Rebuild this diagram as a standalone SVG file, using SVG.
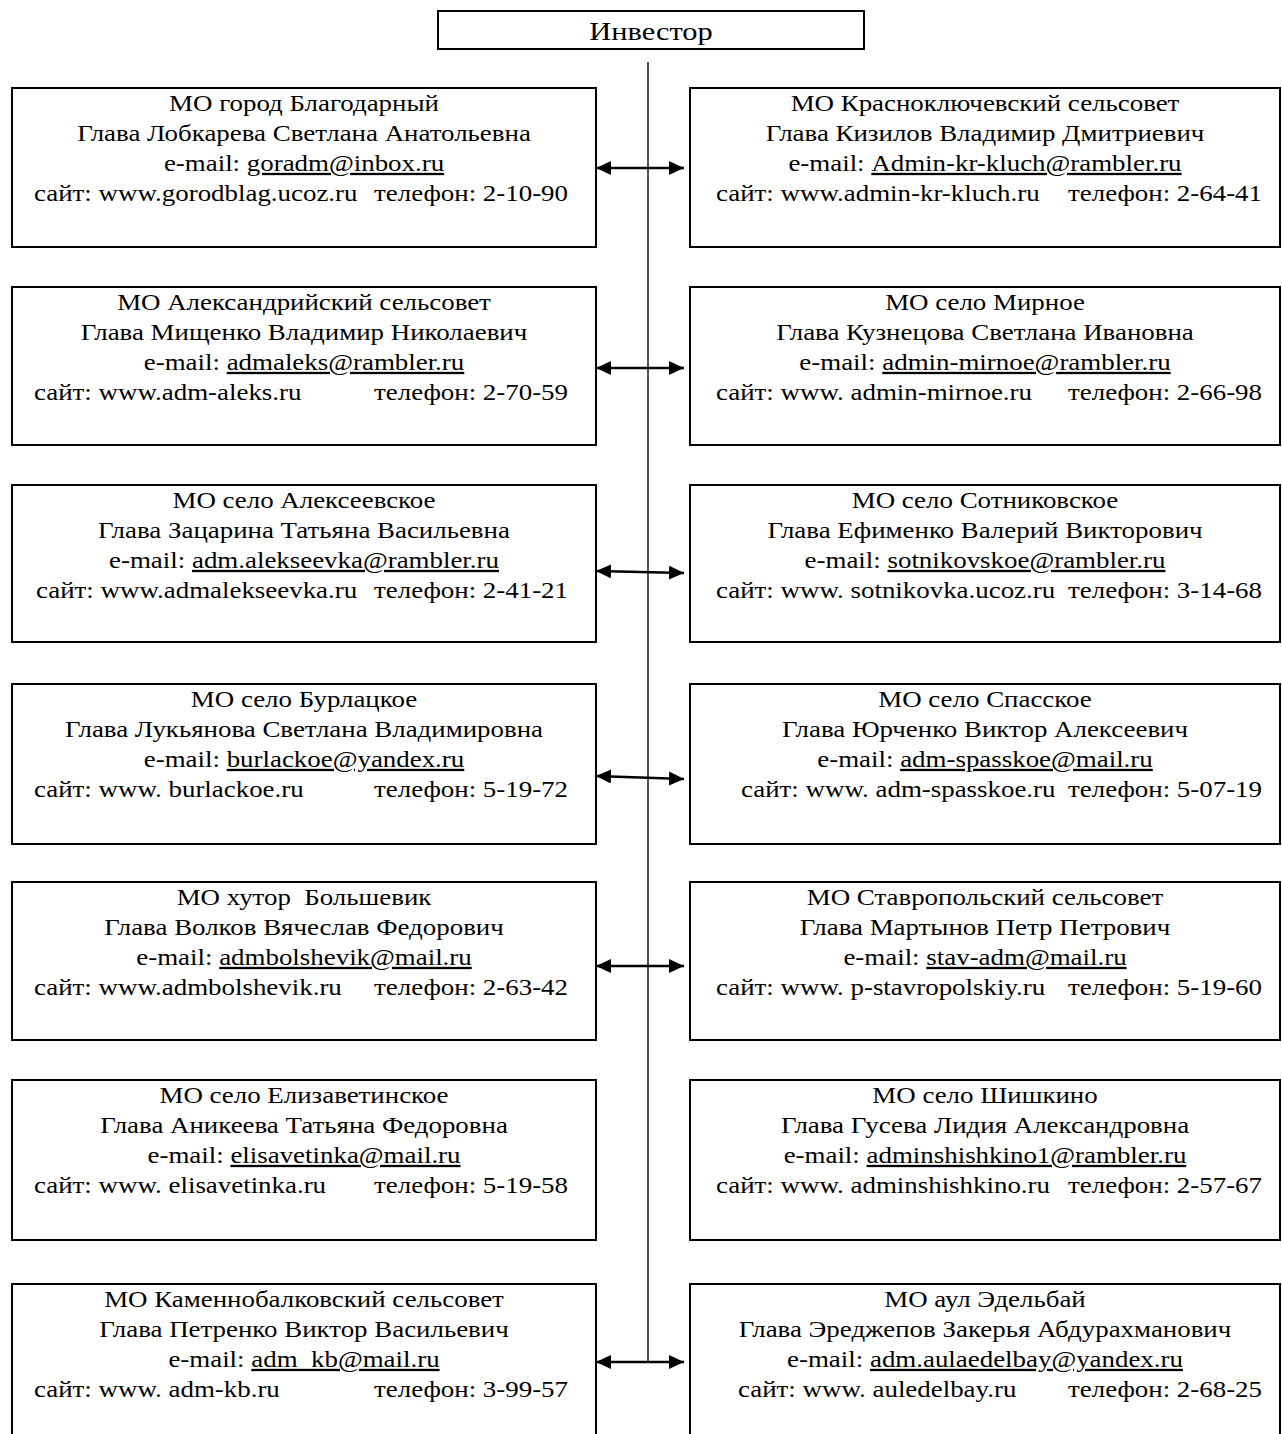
<svg xmlns="http://www.w3.org/2000/svg" width="1282" height="1434" viewBox="0 0 1282 1434">
<style>
  .box { fill: #ffffff; stroke: #000000; stroke-width: 2; }
  .t { font-family: "Liberation Serif", "Times New Roman", serif; font-size: 23px; fill: #000000; }
  .c { text-anchor: middle; }
  .e { text-anchor: end; }
  .u { text-decoration: underline; }
  .inv { font-family: "Liberation Serif", "Times New Roman", serif; font-size: 26px; fill: #000000; text-anchor: middle; }
  .spine { stroke: #1a1a1a; stroke-width: 1.5; fill: none; }
  .arr { stroke: #000000; stroke-width: 2.5; fill: none; marker-start: url(#ah); marker-end: url(#ah); }
</style>
<defs>
  <marker id="ah" markerUnits="userSpaceOnUse" markerWidth="16" markerHeight="14" refX="15" refY="7" orient="auto-start-reverse">
    <path d="M0,0 L15,7 L0,14 z" fill="#000000"/>
  </marker>
</defs>
<rect width="1282" height="1434" fill="#ffffff"/>

<g id="investor">
  <rect class="box" x="438" y="11" width="426" height="38"/>
  <text class="inv" transform="translate(651 40) scale(1.17 1)">Инвестор</text>
</g>

<g id="connectors">
  <line class="spine" x1="648" y1="62" x2="648" y2="1362"/>
  <line class="arr" x1="596" y1="168" x2="684" y2="168"/>
  <line class="arr" x1="596" y1="368" x2="684" y2="368"/>
  <line class="arr" x1="596" y1="571" x2="684" y2="573"/>
  <line class="arr" x1="596" y1="776" x2="684" y2="779"/>
  <line class="arr" x1="596" y1="966" x2="684" y2="966"/>
  <line class="arr" x1="596" y1="1362" x2="684" y2="1362"/>
</g>

<!-- Left column -->
<g id="L1">
  <rect class="box" x="12" y="88" width="584" height="159"/>
  <text class="t c" transform="translate(304 111) scale(1.17 1)">МО город Благодарный</text>
  <text class="t c" transform="translate(304 141) scale(1.17 1)">Глава Лобкарева Светлана Анатольевна</text>
  <text class="t c" transform="translate(304 171) scale(1.17 1)">e-mail: <tspan class="u">goradm@inbox.ru</tspan></text>
  <text class="t" transform="translate(34 201) scale(1.17 1)">сайт: www.gorodblag.ucoz.ru</text>
  <text class="t e" transform="translate(568 201) scale(1.17 1)">телефон: 2-10-90</text>
</g>
<g id="L2">
  <rect class="box" x="12" y="287" width="584" height="158"/>
  <text class="t c" transform="translate(304 310) scale(1.17 1)">МО Александрийский сельсовет</text>
  <text class="t c" transform="translate(304 340) scale(1.17 1)">Глава Мищенко Владимир Николаевич</text>
  <text class="t c" transform="translate(304 370) scale(1.17 1)">e-mail: <tspan class="u">admaleks@rambler.ru</tspan></text>
  <text class="t" transform="translate(34 400) scale(1.17 1)">сайт: www.adm-aleks.ru</text>
  <text class="t e" transform="translate(568 400) scale(1.17 1)">телефон: 2-70-59</text>
</g>
<g id="L3">
  <rect class="box" x="12" y="485" width="584" height="157"/>
  <text class="t c" transform="translate(304 508) scale(1.17 1)">МО село Алексеевское</text>
  <text class="t c" transform="translate(304 538) scale(1.17 1)">Глава Зацарина Татьяна Васильевна</text>
  <text class="t c" transform="translate(304 568) scale(1.17 1)">e-mail: <tspan class="u">adm.alekseevka@rambler.ru</tspan></text>
  <text class="t" transform="translate(36 598) scale(1.17 1)">сайт: www.admalekseevka.ru</text>
  <text class="t e" transform="translate(568 598) scale(1.17 1)">телефон: 2-41-21</text>
</g>
<g id="L4">
  <rect class="box" x="12" y="684" width="584" height="160"/>
  <text class="t c" transform="translate(304 707) scale(1.17 1)">МО село Бурлацкое</text>
  <text class="t c" transform="translate(304 737) scale(1.17 1)">Глава Лукьянова Светлана Владимировна</text>
  <text class="t c" transform="translate(304 767) scale(1.17 1)">e-mail: <tspan class="u">burlackoe@yandex.ru</tspan></text>
  <text class="t" transform="translate(34 797) scale(1.17 1)">сайт: www. burlackoe.ru</text>
  <text class="t e" transform="translate(568 797) scale(1.17 1)">телефон: 5-19-72</text>
</g>
<g id="L5">
  <rect class="box" x="12" y="882" width="584" height="158"/>
  <text class="t c" transform="translate(304 905) scale(1.17 1)" xml:space="preserve">МО хутор  Большевик</text>
  <text class="t c" transform="translate(304 935) scale(1.17 1)">Глава Волков Вячеслав Федорович</text>
  <text class="t c" transform="translate(304 965) scale(1.17 1)">e-mail: <tspan class="u">admbolshevik@mail.ru</tspan></text>
  <text class="t" transform="translate(34 995) scale(1.17 1)">сайт: www.admbolshevik.ru</text>
  <text class="t e" transform="translate(568 995) scale(1.17 1)">телефон: 2-63-42</text>
</g>
<g id="L6">
  <rect class="box" x="12" y="1080" width="584" height="160"/>
  <text class="t c" transform="translate(304 1103) scale(1.17 1)">МО село Елизаветинское</text>
  <text class="t c" transform="translate(304 1133) scale(1.17 1)">Глава Аникеева Татьяна Федоровна</text>
  <text class="t c" transform="translate(304 1163) scale(1.17 1)">e-mail: <tspan class="u">elisavetinka@mail.ru</tspan></text>
  <text class="t" transform="translate(34 1193) scale(1.17 1)">сайт: www. elisavetinka.ru</text>
  <text class="t e" transform="translate(568 1193) scale(1.17 1)">телефон: 5-19-58</text>
</g>
<g id="L7">
  <rect class="box" x="12" y="1284" width="584" height="170"/>
  <text class="t c" transform="translate(304 1307) scale(1.17 1)">МО Каменнобалковский сельсовет</text>
  <text class="t c" transform="translate(304 1337) scale(1.17 1)">Глава Петренко Виктор Васильевич</text>
  <text class="t c" transform="translate(304 1367) scale(1.17 1)">e-mail: <tspan class="u">adm_kb@mail.ru</tspan></text>
  <text class="t" transform="translate(34 1397) scale(1.17 1)">сайт: www. adm-kb.ru</text>
  <text class="t e" transform="translate(568 1397) scale(1.17 1)">телефон: 3-99-57</text>
</g>

<!-- Right column -->
<g id="R1">
  <rect class="box" x="690" y="88" width="590" height="159"/>
  <text class="t c" transform="translate(985 111) scale(1.17 1)">МО Красноключевский сельсовет</text>
  <text class="t c" transform="translate(985 141) scale(1.17 1)">Глава Кизилов Владимир Дмитриевич</text>
  <text class="t c" transform="translate(985 171) scale(1.17 1)">e-mail: <tspan class="u">Admin-kr-kluch@rambler.ru</tspan></text>
  <text class="t" transform="translate(716 201) scale(1.17 1)">сайт: www.admin-kr-kluch.ru</text>
  <text class="t e" transform="translate(1262 201) scale(1.17 1)">телефон: 2-64-41</text>
</g>
<g id="R2">
  <rect class="box" x="690" y="287" width="590" height="158"/>
  <text class="t c" transform="translate(985 310) scale(1.17 1)">МО село Мирное</text>
  <text class="t c" transform="translate(985 340) scale(1.17 1)">Глава Кузнецова Светлана Ивановна</text>
  <text class="t c" transform="translate(985 370) scale(1.17 1)">e-mail: <tspan class="u">admin-mirnoe@rambler.ru</tspan></text>
  <text class="t" transform="translate(716 400) scale(1.17 1)">сайт: www. admin-mirnoe.ru</text>
  <text class="t e" transform="translate(1262 400) scale(1.17 1)">телефон: 2-66-98</text>
</g>
<g id="R3">
  <rect class="box" x="690" y="485" width="590" height="157"/>
  <text class="t c" transform="translate(985 508) scale(1.17 1)">МО село Сотниковское</text>
  <text class="t c" transform="translate(985 538) scale(1.17 1)">Глава Ефименко Валерий Викторович</text>
  <text class="t c" transform="translate(985 568) scale(1.17 1)">e-mail: <tspan class="u">sotnikovskoe@rambler.ru</tspan></text>
  <text class="t" transform="translate(716 598) scale(1.17 1)">сайт: www. sotnikovka.ucoz.ru</text>
  <text class="t e" transform="translate(1262 598) scale(1.17 1)">телефон: 3-14-68</text>
</g>
<g id="R4">
  <rect class="box" x="690" y="684" width="590" height="160"/>
  <text class="t c" transform="translate(985 707) scale(1.17 1)">МО село Спасское</text>
  <text class="t c" transform="translate(985 737) scale(1.17 1)">Глава Юрченко Виктор Алексеевич</text>
  <text class="t c" transform="translate(985 767) scale(1.17 1)">e-mail: <tspan class="u">adm-spasskoe@mail.ru</tspan></text>
  <text class="t" transform="translate(741 797) scale(1.17 1)">сайт: www. adm-spasskoe.ru</text>
  <text class="t e" transform="translate(1262 797) scale(1.17 1)">телефон: 5-07-19</text>
</g>
<g id="R5">
  <rect class="box" x="690" y="882" width="590" height="158"/>
  <text class="t c" transform="translate(985 905) scale(1.17 1)">МО Ставропольский сельсовет</text>
  <text class="t c" transform="translate(985 935) scale(1.17 1)">Глава Мартынов Петр Петрович</text>
  <text class="t c" transform="translate(985 965) scale(1.17 1)">e-mail: <tspan class="u">stav-adm@mail.ru</tspan></text>
  <text class="t" transform="translate(716 995) scale(1.17 1)">сайт: www. p-stavropolskiy.ru</text>
  <text class="t e" transform="translate(1262 995) scale(1.17 1)">телефон: 5-19-60</text>
</g>
<g id="R6">
  <rect class="box" x="690" y="1080" width="590" height="160"/>
  <text class="t c" transform="translate(985 1103) scale(1.17 1)">МО село Шишкино</text>
  <text class="t c" transform="translate(985 1133) scale(1.17 1)">Глава Гусева Лидия Александровна</text>
  <text class="t c" transform="translate(985 1163) scale(1.17 1)">e-mail: <tspan class="u">adminshishkino1@rambler.ru</tspan></text>
  <text class="t" transform="translate(716 1193) scale(1.17 1)">сайт: www. adminshishkino.ru</text>
  <text class="t e" transform="translate(1262 1193) scale(1.17 1)">телефон: 2-57-67</text>
</g>
<g id="R7">
  <rect class="box" x="690" y="1284" width="590" height="170"/>
  <text class="t c" transform="translate(985 1307) scale(1.17 1)">МО аул Эдельбай</text>
  <text class="t c" transform="translate(985 1337) scale(1.17 1)">Глава Эреджепов Закерья Абдурахманович</text>
  <text class="t c" transform="translate(985 1367) scale(1.17 1)">e-mail: <tspan class="u">adm.aulaedelbay@yandex.ru</tspan></text>
  <text class="t" transform="translate(738 1397) scale(1.17 1)">сайт: www. auledelbay.ru</text>
  <text class="t e" transform="translate(1262 1397) scale(1.17 1)">телефон: 2-68-25</text>
</g>
</svg>
